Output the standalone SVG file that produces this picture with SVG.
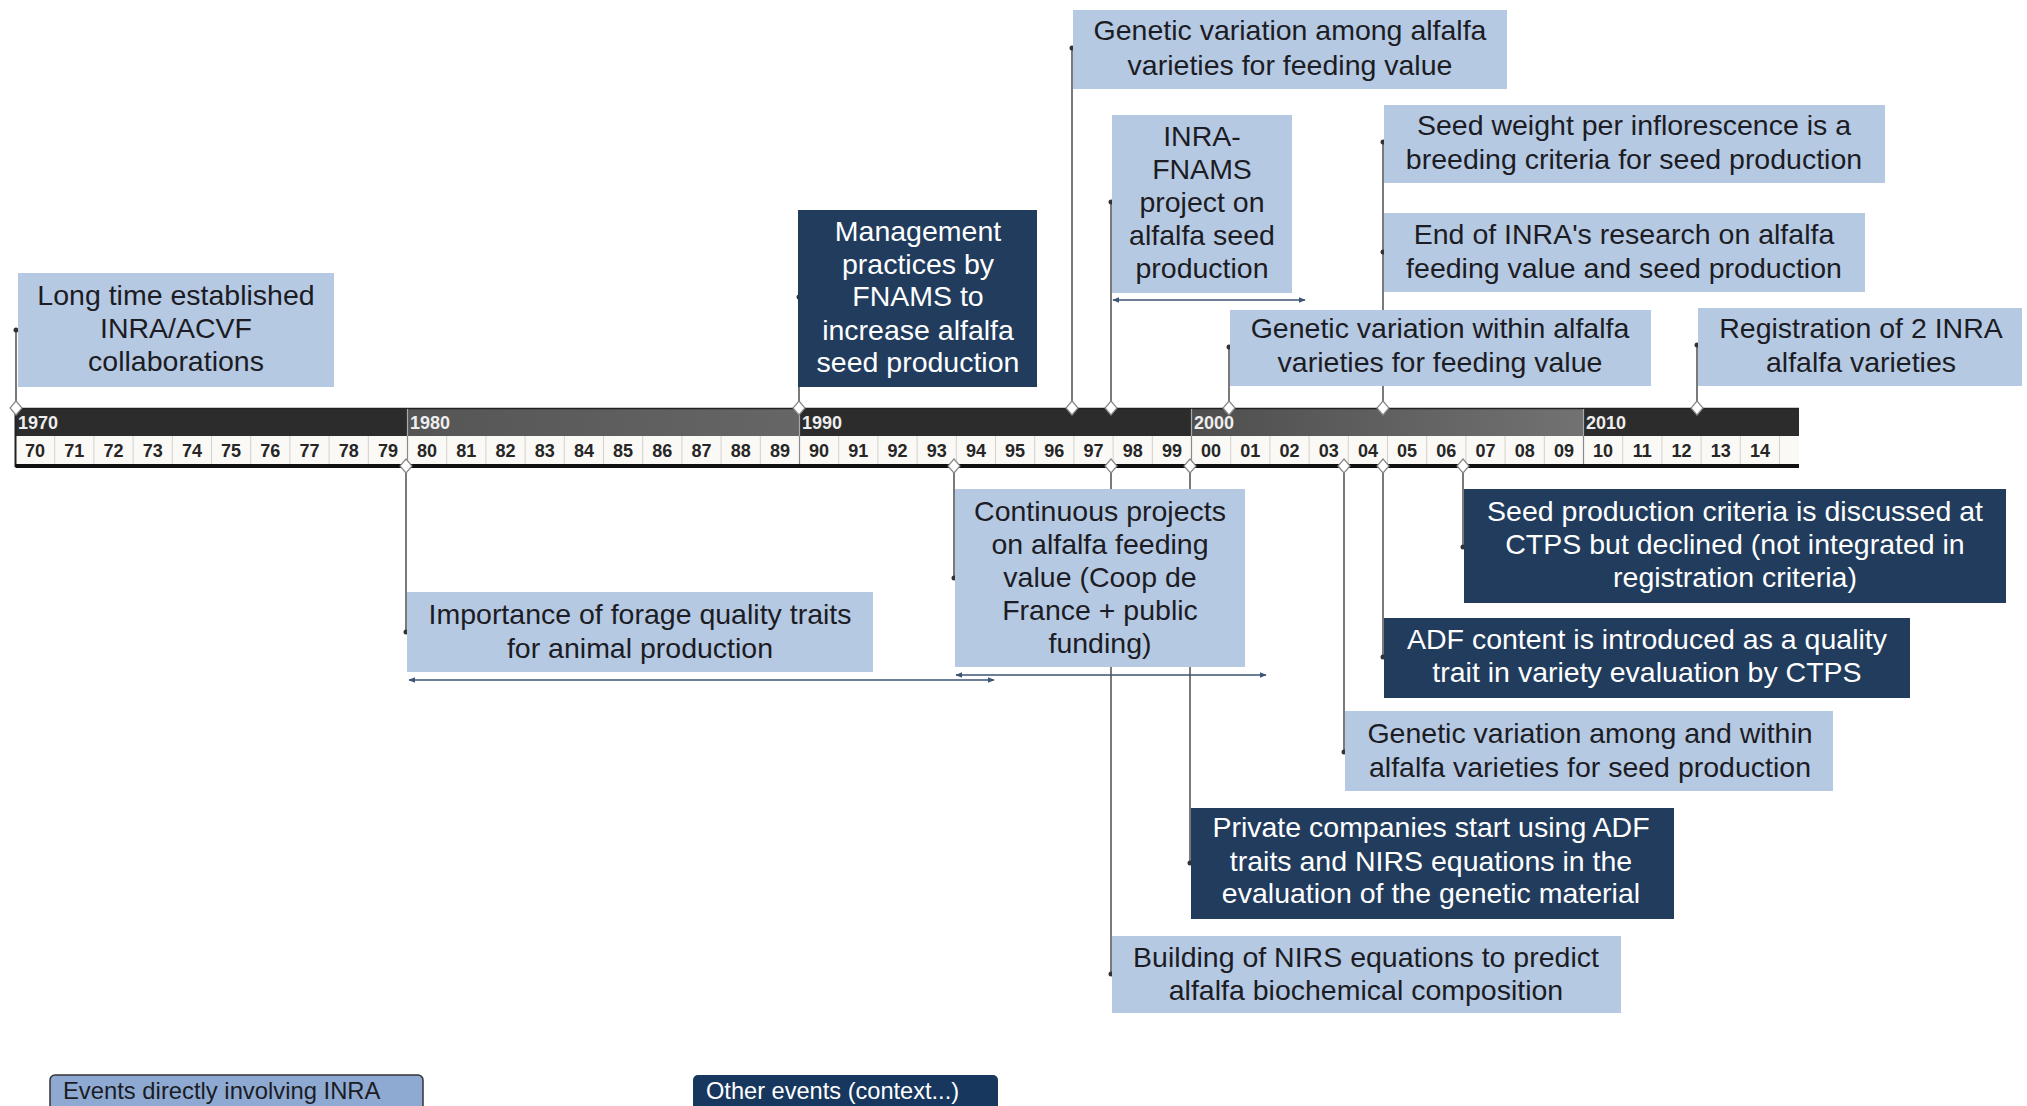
<svg xmlns="http://www.w3.org/2000/svg" width="2027" height="1106" viewBox="0 0 2027 1106">
<defs>
<style>
text{font-family:"Liberation Sans",Arial,sans-serif}
.lb{fill:#b6c9e2}
.db{fill:#213c5d}
.tl{font-size:28.5px;fill:#1c1c24;text-anchor:middle}
.td{font-size:28.5px;fill:#ffffff;text-anchor:middle}
.yr{font-size:18px;font-weight:bold;fill:#262626;text-anchor:middle}
.dec{font-size:18px;font-weight:bold;fill:#eee}
.con{stroke:#333;stroke-width:1.3;fill:none}
.dot{fill:#333}
.dia{fill:#fff;stroke:#888;stroke-width:1.2}
.arr{stroke:#3b5574;stroke-width:1.6;fill:none;marker-start:url(#ah);marker-end:url(#ah)}
</style>
<marker id="ah" viewBox="0 0 10 10" refX="9" refY="5" markerWidth="7" markerHeight="7" orient="auto-start-reverse" markerUnits="userSpaceOnUse">
<path d="M0,1 L10,5 L0,9 z" fill="#3b5574"/>
</marker>
<linearGradient id="g2000" x1="0" x2="1" y1="0" y2="0">
<stop offset="0" stop-color="#4e4e4e"/><stop offset="1" stop-color="#727272"/>
</linearGradient>
<linearGradient id="g1980" x1="0" x2="1" y1="0" y2="0">
<stop offset="0" stop-color="#555"/><stop offset="1" stop-color="#666"/>
</linearGradient>
</defs>
<rect width="2027" height="1106" fill="#fff"/>

<g id="timeline">
<rect x="15.5" y="408" width="392" height="28" fill="#2c2c2c"/>
<rect x="407.5" y="408" width="392" height="28" fill="url(#g1980)"/>
<rect x="799.5" y="408" width="392" height="28" fill="#2c2c2c"/>
<rect x="1191.5" y="408" width="392" height="28" fill="url(#g2000)"/>
<rect x="1583.5" y="408" width="215.5" height="28" fill="#2c2c2c"/>
<path d="M15.5,408.5H1799" stroke="#222" stroke-width="1.5"/>
<path d="M407.5,409V436M799.5,409V436M1191.5,409V436M1583.5,409V436" stroke="#aaa" stroke-width="1.2"/>
<text class="dec" x="18" y="429">1970</text>
<text class="dec" x="410" y="429">1980</text>
<text class="dec" x="802" y="429">1990</text>
<text class="dec" x="1194" y="429">2000</text>
<text class="dec" x="1586" y="429">2010</text>
<rect x="15.5" y="436" width="1783.5" height="29" fill="#fbf9f6"/>
<path d="M54.7,436V465M93.9,436V465M133.1,436V465M172.3,436V465M211.5,436V465M250.7,436V465M289.9,436V465M329.1,436V465M368.3,436V465M446.7,436V465M485.9,436V465M525.1,436V465M564.3,436V465M603.5,436V465M642.7,436V465M681.9,436V465M721.1,436V465M760.3,436V465M838.7,436V465M877.9,436V465M917.1,436V465M956.3,436V465M995.5,436V465M1034.7,436V465M1073.9,436V465M1113.1,436V465M1152.3,436V465M1230.7,436V465M1269.9,436V465M1309.1,436V465M1348.3,436V465M1387.5,436V465M1426.7,436V465M1465.9,436V465M1505.1,436V465M1544.3,436V465M1622.7,436V465M1661.9,436V465M1701.1,436V465M1740.3,436V465M1779.5,436V465" stroke="#d2d0cc" stroke-width="1"/>
<path d="M407.5,436V465M799.5,436V465M1191.5,436V465M1583.5,436V465" stroke="#8a8a8a" stroke-width="1.2"/>
<path d="M15.5,408V467" stroke="#222" stroke-width="2"/>
<rect x="15.5" y="464" width="1783.5" height="4" fill="#111"/>
<g class="yr">
<text x="35.1" y="457">70</text><text x="74.3" y="457">71</text><text x="113.5" y="457">72</text><text x="152.7" y="457">73</text><text x="191.9" y="457">74</text><text x="231.1" y="457">75</text><text x="270.3" y="457">76</text><text x="309.5" y="457">77</text><text x="348.7" y="457">78</text><text x="387.9" y="457">79</text>
<text x="427.1" y="457">80</text><text x="466.3" y="457">81</text><text x="505.5" y="457">82</text><text x="544.7" y="457">83</text><text x="583.9" y="457">84</text><text x="623.1" y="457">85</text><text x="662.3" y="457">86</text><text x="701.5" y="457">87</text><text x="740.7" y="457">88</text><text x="779.9" y="457">89</text>
<text x="819.1" y="457">90</text><text x="858.3" y="457">91</text><text x="897.5" y="457">92</text><text x="936.7" y="457">93</text><text x="975.9" y="457">94</text><text x="1015.1" y="457">95</text><text x="1054.3" y="457">96</text><text x="1093.5" y="457">97</text><text x="1132.7" y="457">98</text><text x="1171.9" y="457">99</text>
<text x="1211.1" y="457">00</text><text x="1250.3" y="457">01</text><text x="1289.5" y="457">02</text><text x="1328.7" y="457">03</text><text x="1367.9" y="457">04</text><text x="1407.1" y="457">05</text><text x="1446.3" y="457">06</text><text x="1485.5" y="457">07</text><text x="1524.7" y="457">08</text><text x="1563.9" y="457">09</text>
<text x="1603.1" y="457">10</text><text x="1642.3" y="457">11</text><text x="1681.5" y="457">12</text><text x="1720.7" y="457">13</text><text x="1759.9" y="457">14</text>
</g>
</g>

<g id="connectors">
<path class="con" d="M16,408V330M799,408V297M1072,408V48M1111,408V202M1229,408V347M1383,408V142M1697,408V345"/>
<path class="con" d="M406,466V632M954,466V578M1111,466V974M1190,466V863M1344,466V752M1383,466V657M1463,466V547"/>
<g class="dot">
<circle cx="16" cy="330" r="2.5"/><circle cx="799" cy="297" r="2.5"/><circle cx="1072" cy="48" r="2.5"/><circle cx="1111" cy="202" r="2.5"/><circle cx="1229" cy="347" r="2.5"/><circle cx="1383" cy="142" r="2.5"/><circle cx="1383" cy="252" r="2.5"/><circle cx="1697" cy="345" r="2.5"/>
<circle cx="406" cy="632" r="2.5"/><circle cx="954" cy="578" r="2.5"/><circle cx="1111" cy="974" r="2.5"/><circle cx="1190" cy="863" r="2.5"/><circle cx="1344" cy="752" r="2.5"/><circle cx="1383" cy="657" r="2.5"/><circle cx="1463" cy="547" r="2.5"/>
</g>
<g class="dia">
<path d="M16,401L22,408L16,415L10,408z"/><path d="M799,401L805,408L799,415L793,408z"/><path d="M1072,401L1078,408L1072,415L1066,408z"/><path d="M1111,401L1117,408L1111,415L1105,408z"/><path d="M1229,401L1235,408L1229,415L1223,408z"/><path d="M1383,401L1389,408L1383,415L1377,408z"/><path d="M1697,401L1703,408L1697,415L1691,408z"/>
<path d="M406,459L412,466L406,473L400,466z"/><path d="M954,459L960,466L954,473L948,466z"/><path d="M1111,459L1117,466L1111,473L1105,466z"/><path d="M1190,459L1196,466L1190,473L1184,466z"/><path d="M1344,459L1350,466L1344,473L1338,466z"/><path d="M1383,459L1389,466L1383,473L1377,466z"/><path d="M1463,459L1469,466L1463,473L1457,466z"/>
</g>
<path class="arr" d="M1113,300H1305"/>
<path class="arr" d="M409,680H994"/>
<path class="arr" d="M956,675H1266"/>
</g>

<g id="n-longtime">
<rect class="lb" x="18" y="273" width="316" height="114"/>
<text class="tl" x="176" y="305">Long time established</text>
<text class="tl" x="176" y="338">INRA/ACVF</text>
<text class="tl" x="176" y="371">collaborations</text>
</g>
<g id="n-management">
<rect class="db" x="798" y="210" width="239" height="177"/>
<text class="td" x="918" y="241">Management</text>
<text class="td" x="918" y="274">practices by</text>
<text class="td" x="918" y="306">FNAMS to</text>
<text class="td" x="918" y="340">increase alfalfa</text>
<text class="td" x="918" y="372">seed production</text>
</g>
<g id="n-genamong-feed">
<rect class="lb" x="1073" y="10" width="434" height="79"/>
<text class="tl" x="1290" y="40">Genetic variation among alfalfa</text>
<text class="tl" x="1290" y="75">varieties for feeding value</text>
</g>
<g id="n-inra-fnams">
<rect class="lb" x="1112" y="115" width="180" height="178"/>
<text class="tl" x="1202" y="146">INRA-</text>
<text class="tl" x="1202" y="179">FNAMS</text>
<text class="tl" x="1202" y="212">project on</text>
<text class="tl" x="1202" y="245">alfalfa seed</text>
<text class="tl" x="1202" y="278">production</text>
</g>
<g id="n-seedweight">
<rect class="lb" x="1384" y="105" width="501" height="78"/>
<text class="tl" x="1634" y="135">Seed weight per inflorescence is a</text>
<text class="tl" x="1634" y="169">breeding criteria for seed production</text>
</g>
<g id="n-endinra">
<rect class="lb" x="1384" y="213" width="481" height="79"/>
<text class="tl" x="1624" y="244">End of INRA's research on alfalfa</text>
<text class="tl" x="1624" y="278">feeding value and seed production</text>
</g>
<g id="n-genwithin-feed">
<rect class="lb" x="1230" y="310" width="421" height="76"/>
<text class="tl" x="1440" y="338">Genetic variation within alfalfa</text>
<text class="tl" x="1440" y="372">varieties for feeding value</text>
</g>
<g id="n-registration">
<rect class="lb" x="1698" y="308" width="324" height="78"/>
<text class="tl" x="1861" y="338">Registration of 2 INRA</text>
<text class="tl" x="1861" y="372">alfalfa varieties</text>
</g>
<g id="n-importance">
<rect class="lb" x="407" y="592" width="466" height="80"/>
<text class="tl" x="640" y="624">Importance of forage quality traits</text>
<text class="tl" x="640" y="658">for animal production</text>
</g>
<g id="n-continuous">
<rect class="lb" x="955" y="489" width="290" height="178"/>
<text class="tl" x="1100" y="521">Continuous projects</text>
<text class="tl" x="1100" y="554">on alfalfa feeding</text>
<text class="tl" x="1100" y="587">value (Coop de</text>
<text class="tl" x="1100" y="620">France + public</text>
<text class="tl" x="1100" y="653">funding)</text>
</g>
<g id="n-seedcriteria">
<rect class="db" x="1464" y="489" width="542" height="114"/>
<text class="td" x="1735" y="521">Seed production criteria is discussed at</text>
<text class="td" x="1735" y="554">CTPS but declined (not integrated in</text>
<text class="td" x="1735" y="587">registration criteria)</text>
</g>
<g id="n-adf">
<rect class="db" x="1384" y="618" width="526" height="80"/>
<text class="td" x="1647" y="649">ADF content is introduced as a quality</text>
<text class="td" x="1647" y="682">trait in variety evaluation by CTPS</text>
</g>
<g id="n-genseed">
<rect class="lb" x="1345" y="711" width="488" height="80"/>
<text class="tl" x="1590" y="743">Genetic variation among and within</text>
<text class="tl" x="1590" y="777">alfalfa varieties for seed production</text>
</g>
<g id="n-private">
<rect class="db" x="1191" y="808" width="483" height="111"/>
<text class="td" x="1431" y="837">Private companies start using ADF</text>
<text class="td" x="1431" y="871">traits and NIRS equations in the</text>
<text class="td" x="1431" y="903">evaluation of the genetic material</text>
</g>
<g id="n-nirs">
<rect class="lb" x="1112" y="936" width="509" height="77"/>
<text class="tl" x="1366" y="967">Building of NIRS equations to predict</text>
<text class="tl" x="1366" y="1000">alfalfa biochemical composition</text>
</g>

<g id="legend">
<rect x="50" y="1075" width="373" height="40" rx="5" fill="#8eaad3" stroke="#333" stroke-width="1.5"/>
<text x="63" y="1099" font-size="23.8" fill="#1c1c24">Events directly involving INRA</text>
<rect x="693" y="1075" width="305" height="40" rx="5" fill="#17375e"/>
<text x="706" y="1099" font-size="23.6" fill="#fff">Other events (context...)</text>
</g>
</svg>
